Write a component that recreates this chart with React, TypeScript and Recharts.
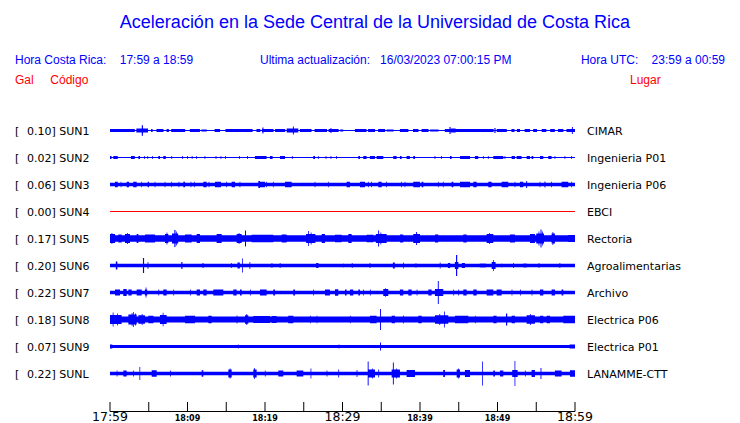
import React from 'react';
import { ComposedChart, Area, XAxis, YAxis } from 'recharts';

const codes = ['SUN1', 'SUN2', 'SUN3', 'SUN4', 'SUN5', 'SUN6', 'SUN7', 'SUN8', 'SUN9', 'SUNL'];
const gals = ['0.10', '0.02', '0.06', '0.00', '0.17', '0.20', '0.22', '0.18', '0.07', '0.22'];
const places = ['CIMAR', 'Ingenieria P01', 'Ingenieria P06', 'EBCI', 'Rectoria', 'Agroalimentarias', 'Archivo', 'Electrica P06', 'Electrica P01', 'LANAMME-CTT'];
const traceColors = ['#0000ff', '#0000ff', '#0000ff', '#ff0000', '#0000ff', '#0000ff', '#0000ff', '#0000ff', '#0000ff', '#0000ff'];

// minutes since 17:59
const timeTicks = [0, 5, 10, 15, 20, 25, 30, 35, 40, 45, 50, 55, 60];
const timeLabels = ['17:59', '', '18:09', '', '18:19', '', '18:29', '', '18:39', '', '18:49', '', '18:59'];
const majorTimes = [0, 30, 60];

// background half-amplitude of each trace
const baseAmp = [0.6, 0.5, 1.7, 0.5, 3.2, 1.7, 1.7, 3, 1.6, 1.7];

// bursts: [from minute, to minute, half-amplitude]
const sun1 = [[0,3.2,1.5],[3.4,4.9,2],[4.1,4.25,5.3],[5.3,5.5,1.5],[6.0,6.9,1.5],[7.3,7.6,1.5],[7.9,9.7,1.5],[10.3,11.6,1.5],[11.8,12.5,1],[13.5,14.2,1.5],[14.9,18.4,1.5],[18.9,19.4,1.5],[19.6,21.1,1.5],[19.66,19.8,3],[21.3,22.6,1.5],[22.8,24.3,2],[23.6,23.72,4],[24.5,26,1.5],[26.4,28,1.5],[28.2,29.5,1.5],[28.45,28.57,2.5],[29.7,30.1,1],[31.6,33.1,1.5],[33.3,34.2,1.5],[34.6,35.5,1.5],[35.7,36.6,1],[37.4,38.5,1.5],[39.1,39.8,1.5],[40.2,41.1,1.5],[41.3,42.4,1],[43.2,49.5,1.5],[43.8,43.95,3.5],[44,44.6,2],[49.6,49.75,2.5],[49.9,51.2,1.5],[51.8,52.2,1.5],[52.5,52.9,1.5],[53.5,54.2,1.5],[54.6,55.1,1.5],[55.7,56.3,1.5],[56.8,57.4,1.5],[57.8,58.5,1.5],[58.9,60,1.5],[59.6,59.72,3.5]];
const sun2 = [[0,0.2,1.4],[0.43,1.0,1.4],[2.7,3.2,1.4],[3.66,3.87,1.4],[4.4,4.5,1.4],[4.82,4.92,1.4],[5.45,5.55,1.4],[6.24,6.45,1.4],[6.88,7.2,1.4],[7.92,8.02,1.4],[9.3,9.4,1.4],[9.95,10.05,1.4],[10.55,10.65,1.4],[11.13,11.23,1.4],[12.2,12.3,1.4],[13.63,13.73,1.4],[14.27,14.37,1.4],[14.87,14.97,1.4],[16.64,16.74,1.4],[17.7,17.8,1.4],[18.7,20.2,1.5],[20.64,20.98,1.4],[21.93,22.58,1.4],[23.47,23.57,1.4],[26.23,26.45,1.4],[26.83,26.93,1.4],[27.82,27.92,1.4],[28.46,28.56,1.4],[29.19,29.29,1.4],[32.04,32.25,1.4],[32.68,33.11,1.4],[33.54,34.19,1.4],[34.4,35.26,1.4],[36.55,36.98,1.4],[37.41,37.63,1.4],[38.27,38.7,1.4],[39.13,39.35,1.4],[41.88,41.98,1.4],[42.74,42.84,1.4],[43.87,44.08,1.4],[45.16,46.45,1.4],[47.09,47.52,1.4],[48.12,48.22,1.4],[48.76,48.86,1.4],[49.46,50.75,1.4],[50.91,51.01,1.4],[51.82,52.25,1.4],[52.47,53.11,1.4],[53.76,54.19,1.4],[54.4,54.62,1.4],[55.48,55.91,1.4],[56.55,56.98,1.4],[57.36,57.46,1.4],[58.65,58.75,1.4],[59.52,59.62,1.4]];
const sun3 = [[0.65,1.0,2.7],[1.37,1.47,2.7],[2.15,2.45,2.7],[3.0,3.44,2.7],[4.04,4.14,2.7],[4.86,5.03,2.7],[5.76,5.86,2.7],[7.05,7.15,2.7],[7.91,8.01,2.7],[8.85,8.95,2.7],[9.46,9.68,2.7],[10.4,10.5,2.7],[10.83,10.93,2.7],[12.04,12.47,2.7],[12.72,12.82,2.7],[13.55,14.32,2.7],[15.0,15.1,2.7],[15.7,16.13,2.7],[16.72,16.82,2.7],[19.14,19.35,3.5],[19.35,20.0,2.7],[20.16,20.26,2.7],[21.02,21.12,2.7],[22.58,23.44,2.7],[26.4,26.5,2.7],[28.12,28.22,2.7],[30.53,30.96,2.7],[32.25,32.9,2.7],[33.28,33.38,2.7],[33.71,33.81,2.7],[34.62,35.05,2.7],[35.64,35.74,2.7],[37.58,37.68,2.7],[38.01,38.11,2.7],[39.13,40.0,2.7],[40.21,40.43,2.7],[42.31,42.41,2.7],[42.95,43.05,2.7],[44.08,44.3,2.7],[45.16,46.45,2.7],[46.88,47.31,2.7],[48.81,49.24,2.7],[50.53,51.39,2.7],[52.2,52.3,2.7],[52.9,53.33,2.7],[53.7,53.82,3.5],[55.43,55.53,2.7],[56.06,56.18,3],[56.93,57.03,2.7],[58.27,59.13,2.7],[59.52,59.62,2.7]];
const sun4: number[][] = [];
const sun5 = [[0,0.65,4.5],[0.2,0.3,5.5],[1.08,1.5,4],[1.94,2.58,4.5],[2.2,2.3,5.5],[3.44,3.66,4.5],[4.52,5.81,4],[7.1,7.53,4.5],[7.3,7.4,6],[8.0,8.8,5],[8.3,8.45,8.5],[8.55,8.65,7],[9.68,10.54,4],[11.18,11.61,4.5],[13.76,14.41,4.5],[16.34,16.99,4.5],[16.6,16.7,5.5],[17.42,17.55,8],[18.28,21.07,3.8],[22.15,22.79,4],[25.3,26.5,4.5],[25.55,25.65,7.5],[25.9,26.0,6],[27.31,27.74,4.5],[29.03,29.89,3.8],[30.75,31.18,4.5],[33.11,33.97,3.8],[34.3,35.7,4.5],[34.6,34.72,8],[34.9,35.0,6],[37.41,37.84,4],[39.13,40,4.5],[39.5,39.62,6.5],[41.93,42.36,4],[45.59,46.02,4],[48.6,49.46,4.5],[48.9,49.0,5.5],[51.61,52.25,4],[54.19,54.83,4.5],[55.0,56.0,5],[55.3,55.4,7],[55.55,55.68,9],[55.75,55.85,7],[56.98,57.41,5],[57.1,57.2,6.5],[59.13,60,3.5]];
const sun6 = [[0.75,0.95,4],[4.25,4.4,7.5],[4.85,4.95,3.5],[9.2,9.35,3.5],[11.9,12.1,2.3],[15.6,15.7,2.5],[16.45,16.75,3],[17.05,17.15,7],[18.0,18.1,3.5],[20.85,20.95,2.5],[21.9,22.0,2.5],[26.6,26.9,2.5],[30.1,30.2,2],[31.2,31.3,2.5],[33.5,33.6,2.5],[36.5,36.75,3],[37.8,37.9,3],[39.35,39.6,2],[42.55,42.65,3],[43.6,43.9,2.5],[44.5,44.95,3.5],[44.65,44.8,10.5],[45.4,45.8,2.5],[47.7,48.5,2],[49.25,49.75,3.5],[49.45,49.55,5.5],[50.5,50.6,2],[52.0,52.1,2.5],[53.3,53.8,2],[55.3,55.4,2.5],[58.0,58.1,2.5]];
const sun7 = [[0.65,1.29,3],[1.72,2.15,3.5],[2.37,2.8,3],[3.44,4.09,3],[4.5,4.8,3],[4.6,4.7,5],[6.24,6.34,3],[6.88,7.31,3],[8.17,8.27,3],[10.32,10.42,3],[11.18,11.61,3],[12.04,12.47,3],[13.33,14.62,3],[15.91,16.34,3],[16.77,16.99,3],[18.06,18.16,3],[19.35,20.21,3],[21.07,21.29,3],[23.65,23.87,3],[26.23,26.33,3],[27.74,28.38,3],[29.03,29.46,3.2],[30.32,30.53,3],[30.96,31.39,3],[32.04,32.25,3],[32.68,32.78,3],[33.54,33.64,3],[35.26,35.91,3.5],[35.5,35.6,4.2],[37.41,37.84,3],[38.49,38.92,3],[39.57,39.67,3],[41.07,41.5,3],[41.93,43.0,3.6],[42.3,42.42,11.5],[44.3,44.4,3],[44.94,45.04,3],[45.59,46.02,3],[46.88,47.31,3],[48.6,49.46,3],[49.89,50.53,3],[51.82,51.92,3],[52.9,53.0,3],[54.4,54.5,3],[55.48,55.91,3],[56.98,57.41,3],[58.27,58.49,3]];
const sun8 = [[0,1.5,4.5],[0.35,0.45,7],[0.9,1.0,6],[2.37,3.44,5],[2.8,2.9,6.5],[3.0,3.1,7.5],[3.25,3.35,6],[3.66,4.52,4.2],[4.1,4.2,5.5],[4.95,5.6,3.8],[6.45,7.31,4.5],[6.8,6.9,6.8],[9.68,10.97,3.8],[12.69,13.12,3.8],[16.34,16.44,4],[17.42,17.85,4.2],[17.6,17.7,5.5],[18.49,20.64,3.6],[20.86,21.5,3.4],[23.0,23.65,3.8],[25.8,25.9,3.8],[26.66,26.76,3.8],[30.96,31.06,3.8],[33.54,34.4,3.8],[34.85,34.97,10.5],[36.34,36.77,3.8],[37.84,37.94,4],[39.78,40.21,3.8],[41.93,43.65,4.2],[42.5,42.6,5.5],[43.1,43.2,8],[44.51,46.23,3.8],[47.09,47.19,3.8],[49.46,49.89,3.8],[51.1,51.25,6],[51.82,52.25,3.8],[53.76,54.83,4.2],[54.2,54.3,5.5],[55.48,55.91,3.8],[56.34,56.77,3.8],[58.49,60,3.8]];
const sun9 = [[0,0.3,2.0],[16.5,16.6,2.0],[29.5,29.6,2.0],[34.85,34.97,4],[59.3,60,2.0]];
const sunl = [[0.86,0.96,3],[1.72,2.15,3],[3.0,3.1,3],[3.8,3.9,6.5],[5.38,6.02,3.2],[7.75,7.85,3],[11.83,12.04,3.2],[15.27,15.7,4],[15.45,15.55,5],[18.49,18.92,4],[18.6,18.7,5.5],[19.98,20.08,3],[21.72,22.36,3],[24.08,24.94,3],[25.88,25.98,5],[27.95,28.05,3],[29.46,29.56,4],[31.82,31.92,3.5],[33.25,33.37,12],[33.37,34.19,4],[33.8,33.9,5],[34.62,34.72,4],[36.34,37.41,4],[36.5,36.62,11],[36.9,37.0,5],[38.27,39.35,3.5],[43.0,43.22,3.5],[44.73,45.16,4],[44.9,45.0,5],[45.8,46.45,3.5],[48.03,48.13,12],[49.46,49.67,3],[50.32,50.75,3],[51.9,52.6,3.5],[52.2,52.3,12.5],[53.54,53.64,3],[54.4,54.83,3.5],[55.55,55.67,5.5],[57.41,58.27,3],[59.35,60,3.2]];

const bursts = [sun1, sun2, sun3, sun4, sun5, sun6, sun7, sun8, sun9, sunl];

const ROW = 27;
const Y_MAX = 294.5;
const rowCenter = (i: number) => ROW / 2 + ROW * i;
const rowTicks = codes.map((_, i) => rowCenter(i));

function buildTrace(i: number) {
  const segs = bursts[i];
  const bounds = Array.from(new Set([0, 60, ...segs.flatMap((s) => [s[0], s[1]])])).sort((a, b) => a - b);
  const c = rowCenter(i);
  const pts: { x: number; range: [number, number] }[] = [];
  for (let k = 0; k < bounds.length - 1; k++) {
    const a = bounds[k];
    const b = bounds[k + 1];
    const mid = (a + b) / 2;
    let amp = baseAmp[i];
    for (const s of segs) if (s[0] <= mid && mid <= s[1] && s[2] > amp) amp = s[2];
    pts.push({ x: a, range: [c - amp, c + amp] });
    pts.push({ x: b, range: [c - amp, c + amp] });
  }
  return pts;
}

const traces = codes.map((_, i) => buildTrace(i));

const LeftTick = (props: any) => {
  const { x, y, index } = props;
  return (
    <g>
      <text x={x - 95} y={y + 4} fontSize={11} fontFamily="DejaVu Sans" fill="#000">[</text>
      <text x={x - 83} y={y + 4} fontSize={11} fontFamily="DejaVu Sans" fill="#000">{`${gals[index]}] ${codes[index]}`}</text>
    </g>
  );
};

const RightTick = (props: any) => {
  const { x, y, index } = props;
  return (
    <text x={x} y={y + 4} fontSize={11} fontFamily="DejaVu Sans" fill="#000">{places[index]}</text>
  );
};

const TimeTick = (props: any) => {
  const { x, y, payload } = props;
  const idx = timeTicks.indexOf(payload.value);
  const label = timeLabels[idx];
  const major = majorTimes.includes(payload.value);
  return (
    <g>
      <line x1={x} x2={x} y1={y - 9.5} y2={y} stroke="#000" strokeWidth={1} />
      {label ? (
        <text
          x={x}
          y={y + 9}
          textAnchor="middle"
          fontSize={major ? 12.5 : 8}
          fontWeight={major ? 'normal' : 'bold'}
          fontFamily="DejaVu Sans"
          fill="#000"
        >
          {label}
        </text>
      ) : null}
    </g>
  );
};

const headerStyle: React.CSSProperties = {
  position: 'absolute',
  fontFamily: '"Liberation Sans", Arial, sans-serif',
  fontSize: 12,
  lineHeight: '14px',
  whiteSpace: 'pre',
  color: '#0000ff',
};

export default function App() {
  return (
    <div style={{ position: 'absolute', left: 0, top: 0, width: 740, height: 423, background: '#fff', overflow: 'hidden' }}>
      <div
        style={{
          position: 'absolute',
          left: 0,
          top: 11,
          width: 750,
          textAlign: 'center',
          fontFamily: '"Liberation Sans", Arial, sans-serif',
          fontSize: 18,
          lineHeight: '22px',
          color: '#0000ff',
        }}
      >
        Aceleración en la Sede Central de la Universidad de Costa Rica
      </div>
      <div style={{ ...headerStyle, left: 15, top: 53 }}>{'Hora Costa Rica:    17:59 a 18:59'}</div>
      <div style={{ ...headerStyle, left: 260, top: 53 }}>{'Ultima actualización:   16/03/2023 07:00:15 PM'}</div>
      <div style={{ ...headerStyle, right: 15, top: 53 }}>{'Hora UTC:    23:59 a 00:59'}</div>
      <div style={{ ...headerStyle, left: 15, top: 73, color: '#ff0000' }}>{'Gal     Código'}</div>
      <div style={{ ...headerStyle, left: 630, top: 73, color: '#ff0000' }}>{'Lugar'}</div>
      <div style={{ position: 'absolute', left: 0, top: 116.5 }}>
        <ComposedChart width={740} height={306.5} margin={{ top: 0, right: 0, bottom: 0, left: 0 }}>
          <XAxis
            xAxisId="t"
            type="number"
            dataKey="x"
            domain={[0, 60]}
            ticks={timeTicks}
            interval={0}
            tickSize={0}
            tickMargin={0}
            tickLine={false}
            axisLine={{ stroke: '#000', strokeWidth: 1 }}
            tick={<TimeTick />}
            height={12}
            allowDataOverflow
          />
          <YAxis
            yAxisId="l"
            orientation="left"
            type="number"
            domain={[0, Y_MAX]}
            reversed
            ticks={rowTicks}
            interval={0}
            width={110}
            axisLine={false}
            tickLine={false}
            tickSize={0}
            tickMargin={0}
            tick={<LeftTick />}
            allowDataOverflow
          />
          <YAxis
            yAxisId="r"
            orientation="right"
            type="number"
            domain={[0, Y_MAX]}
            reversed
            ticks={rowTicks}
            interval={0}
            width={165}
            axisLine={false}
            tickLine={false}
            tickSize={0}
            tickMargin={12}
            tick={<RightTick />}
            allowDataOverflow
          />
          {traces.map((d, i) => (
            <Area
              key={codes[i]}
              data={d}
              xAxisId="t"
              yAxisId="l"
              dataKey="range"
              type="linear"
              stroke="none"
              fill={traceColors[i]}
              fillOpacity={1}
              isAnimationActive={false}
              dot={false}
              activeDot={false}
            />
          ))}
        </ComposedChart>
      </div>
    </div>
  );
}
